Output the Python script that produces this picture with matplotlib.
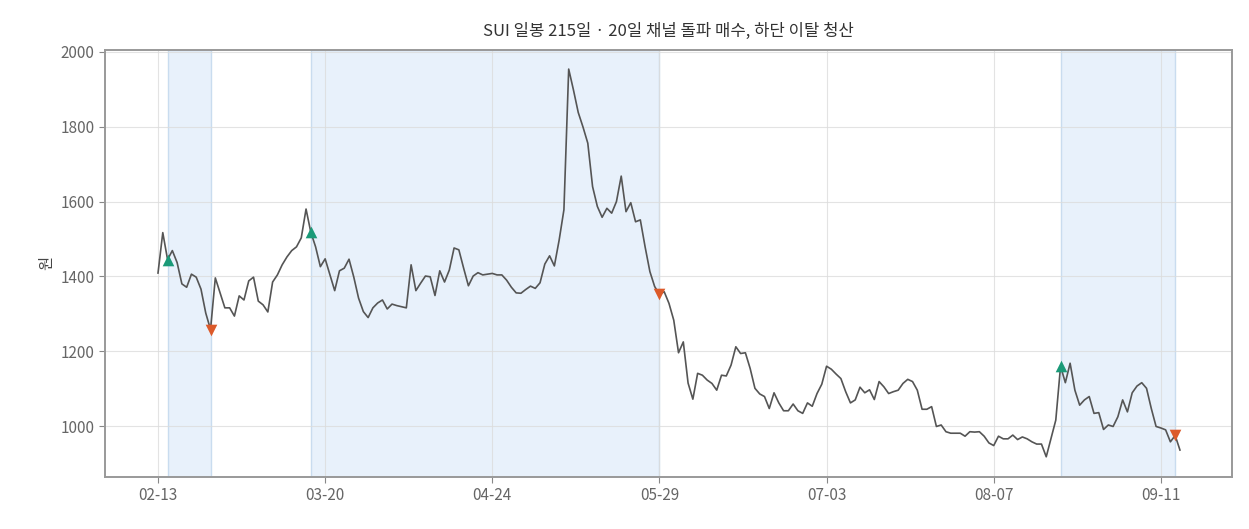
import matplotlib
matplotlib.use("Agg")
import matplotlib.pyplot as plt
import matplotlib.dates as mdates
import numpy as np
import pandas as pd

plt.rcParams["font.family"] = ["Noto Sans CJK KR", "DejaVu Sans"]

START = "2025-02-13"
CLOSE = [
    1409, 1517, 1445, 1469, 1437, 1380, 1371, 1406, 1398, 1366,
    1302, 1258, 1396, 1356, 1316, 1316, 1294, 1348, 1337, 1388,
    1398, 1334, 1324, 1305, 1385, 1404, 1431, 1452, 1469, 1479,
    1503, 1580, 1518, 1479, 1426, 1447, 1404, 1362, 1415, 1422,
    1446, 1398, 1342, 1306, 1290, 1316, 1329, 1337, 1313, 1326,
    1322, 1319, 1316, 1431, 1362, 1382, 1401, 1399, 1349, 1415,
    1385, 1417, 1476, 1471, 1422, 1375, 1401, 1410, 1404, 1406,
    1408, 1404, 1404, 1390, 1371, 1356, 1355, 1365, 1374, 1368,
    1383, 1433, 1455, 1428, 1497, 1578, 1954, 1898, 1838, 1799,
    1756, 1640, 1587, 1558, 1582, 1569, 1600, 1668, 1573, 1597,
    1546, 1551, 1479, 1413, 1373, 1352, 1359, 1328, 1283, 1196,
    1225, 1115, 1072, 1141, 1136, 1123, 1114, 1096, 1136, 1134,
    1163, 1212, 1194, 1196, 1154, 1101, 1086, 1079, 1047, 1089,
    1062, 1041, 1041, 1059, 1041, 1034, 1062, 1053, 1087, 1112,
    1160, 1152, 1139, 1127, 1092, 1062, 1070, 1104, 1089, 1097,
    1071, 1119, 1105, 1087, 1092, 1096, 1114, 1125, 1119, 1096,
    1045, 1045, 1052, 999, 1003, 985, 981, 981, 981, 973,
    985, 984, 985, 973, 955, 948, 973, 966, 966, 976,
    964, 971, 966, 958, 952, 952, 918, 967, 1016, 1160,
    1116, 1168, 1096, 1056, 1070, 1079, 1034, 1036, 991, 1003,
    999, 1025, 1070, 1038, 1089, 1107, 1116, 1101, 1047, 999,
    995, 990, 958, 975, 936,
]
BUY_IDX = [2, 32, 189]
SELL_IDX = [11, 105, 213]

dates = pd.date_range(START, periods=len(CLOSE), freq="D")
close = np.array(CLOSE, dtype=float)

fig = plt.figure(figsize=(12.49, 5.29), dpi=100)
ax = fig.add_axes([105 / 1249, 52 / 529, 1127 / 1249, 427 / 529])

for b, s in zip(BUY_IDX, SELL_IDX):
    ax.axvspan(dates[b], dates[s], facecolor="#e8f1fb", edgecolor="#c9dcef", linewidth=1.0, zorder=0.2)

ax.plot(dates, close, color="#555555", linewidth=1.2, zorder=3)
ax.scatter(dates[BUY_IDX], close[BUY_IDX], marker="^", s=70, color="#1a9a78", zorder=4, linewidths=0)
ax.scatter(dates[SELL_IDX], close[SELL_IDX], marker="v", s=70, color="#dc5a2a", zorder=4, linewidths=0)

ticks = pd.date_range(START, periods=7, freq="35D")
ax.set_xticks(ticks)
ax.xaxis.set_major_formatter(mdates.DateFormatter("%m-%d"))
ax.set_xlim(dates[0] - pd.Timedelta(days=11.1), dates[0] + pd.Timedelta(days=224.9))
ax.set_ylim(864, 2005)
ax.set_yticks([1000, 1200, 1400, 1600, 1800, 2000])

ax.grid(True, color="#dcdcdc", linewidth=0.8, alpha=0.8, zorder=1)
ax.set_axisbelow("line")
for sp in ax.spines.values():
    sp.set_color("#999999")
    sp.set_linewidth(1.4)
ax.tick_params(colors="#666666", labelsize=11, length=4, color="#888888")
ax.set_ylabel("원", fontsize=11, color="#444444")
ax.set_title("SUI 일봉 215일 · 20일 채널 돌파 매수, 하단 이탈 청산", fontsize=12, color="#333333", pad=10)

fig.savefig("out.png", dpi=100, facecolor="white")
